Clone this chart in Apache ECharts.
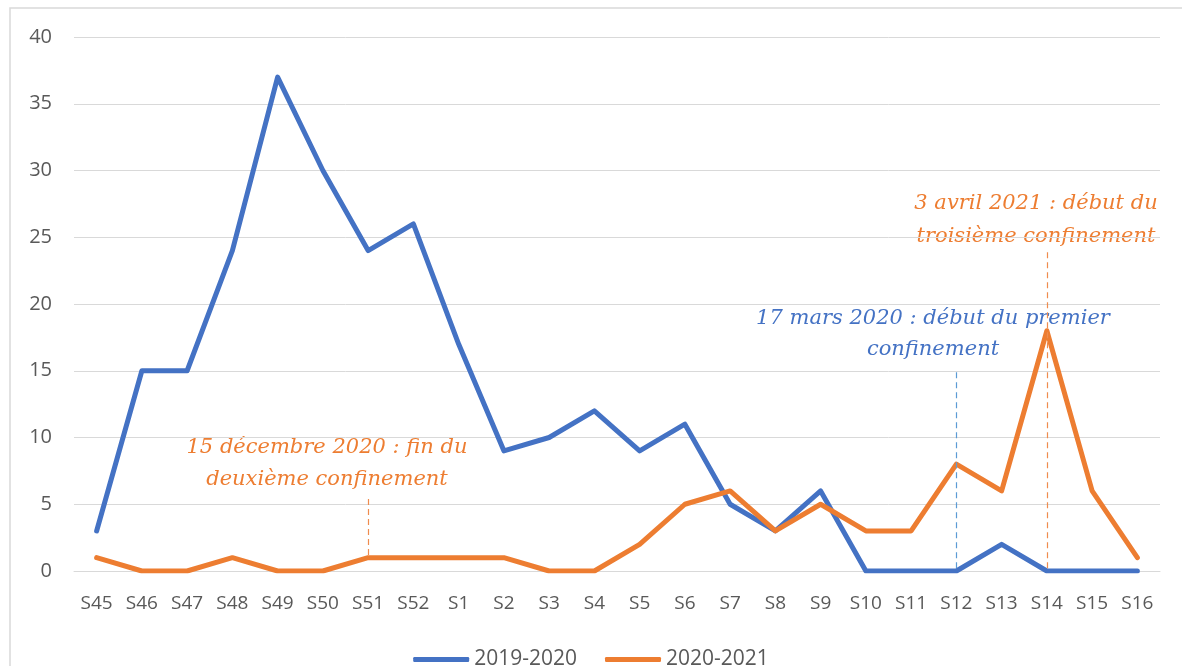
<!DOCTYPE html>
<html>
<head>
<meta charset="utf-8">
<script src="https://cdn.jsdelivr.net/npm/echarts@6/dist/echarts.min.js"></script>
<style>
  html, body { margin: 0; padding: 0; background: #fff; }
  #chart { width: 1182px; height: 666px; }
</style>
</head>
<body>
<div id="chart"></div>
<script>
const weeks = ['S45', 'S46', 'S47', 'S48', 'S49', 'S50', 'S51', 'S52', 'S1', 'S2', 'S3', 'S4',
  'S5', 'S6', 'S7', 'S8', 'S9', 'S10', 'S11', 'S12', 'S13', 'S14', 'S15', 'S16']
const season1 = [3, 15, 15, 24, 37, 30, 24, 26, 17, 9, 10, 12, 9, 11, 5, 3, 6, 0, 0, 0, 2, 0, 0, 0]
const season2 = [1, 0, 0, 1, 0, 0, 1, 1, 1, 1, 0, 0, 2, 5, 6, 3, 5, 3, 3, 8, 6, 18, 6, 1]
const seriesNames = ['2019-2020', '2020-2021']

const blue = '#4472C4'
const orange = '#ED7D31'
const grey = '#595959'
const noteFont = 'italic 21px "DejaVu Serif", serif'

const chart = echarts.init(document.getElementById('chart'))

function noteLine(week, from, to) {
  return [{ coord: [week, from] }, { coord: [week, to] }]
}

const option = {
  backgroundColor: '#fff',
  animation: false,
  grid: { left: 74, right: 22, top: 37, bottom: 95 },
  legend: {
    top: 644,
    left: 'center',
    itemWidth: 56,
    itemHeight: 5,
    itemGap: 28,
    icon: 'roundRect',
    textStyle: { color: grey, fontSize: 21, fontFamily: 'Open Sans' },
    data: seriesNames
  },
  xAxis: {
    type: 'category',
    data: weeks,
    axisTick: { show: false },
    axisLine: { lineStyle: { color: '#d9d9d9', width: 1 } },
    axisLabel: { color: grey, fontSize: 19, margin: 23, fontFamily: 'Open Sans' }
  },
  yAxis: {
    type: 'value',
    min: 0,
    max: 40,
    interval: 5,
    axisLine: { show: false },
    axisTick: { show: false },
    axisLabel: { color: grey, fontSize: 20, margin: 22, fontFamily: 'Open Sans' },
    splitLine: { lineStyle: { color: '#d9d9d9', width: 1 } }
  },
  series: [
    {
      name: seriesNames[0],
      type: 'line',
      data: season1,
      symbol: 'none',
      lineStyle: { color: blue, width: 5, cap: 'round', join: 'round' },
      itemStyle: { color: blue },
      z: 3,
      markLine: {
        silent: true,
        symbol: 'none',
        label: { show: false },
        lineStyle: { color: '#5B9BD5', width: 1.2, type: [6, 4] },
        data: [noteLine('S12', 0.2, 14.9)]
      }
    },
    {
      name: seriesNames[1],
      type: 'line',
      data: season2,
      symbol: 'none',
      lineStyle: { color: orange, width: 5, cap: 'round', join: 'round' },
      itemStyle: { color: orange },
      z: 4,
      markLine: {
        silent: true,
        symbol: 'none',
        label: { show: false },
        lineStyle: { color: '#EF8C4E', width: 1.2, type: [6, 4] },
        data: [noteLine('S14', 0.2, 23.9), noteLine('S51', 1.2, 5.6)]
      }
    }
  ],
  graphic: [
    {
      type: 'rect',
      shape: { x: 10, y: 8, width: 1200, height: 700 },
      style: { fill: 'none', stroke: '#d9d9d9', lineWidth: 1.5 },
      silent: true
    },
    {
      type: 'text',
      x: 327, y: 464,
      style: {
        text: '15 décembre 2020 : fin du\ndeuxième confinement',
        font: noteFont, fill: orange, align: 'center', verticalAlign: 'middle', lineHeight: 32
      }
    },
    {
      type: 'text',
      x: 933, y: 334,
      style: {
        text: '17 mars 2020 : début du premier\nconfinement',
        font: noteFont, fill: blue, align: 'center', verticalAlign: 'middle', lineHeight: 31
      }
    },
    {
      type: 'text',
      x: 1036, y: 220,
      style: {
        text: '3 avril 2021 : début du\ntroisième confinement',
        font: noteFont, fill: orange, align: 'center', verticalAlign: 'middle', lineHeight: 33
      }
    }
  ]
}

chart.setOption(option)

window.addEventListener('resize', () => {
  chart.resize()
})
</script>
</body>
</html>
